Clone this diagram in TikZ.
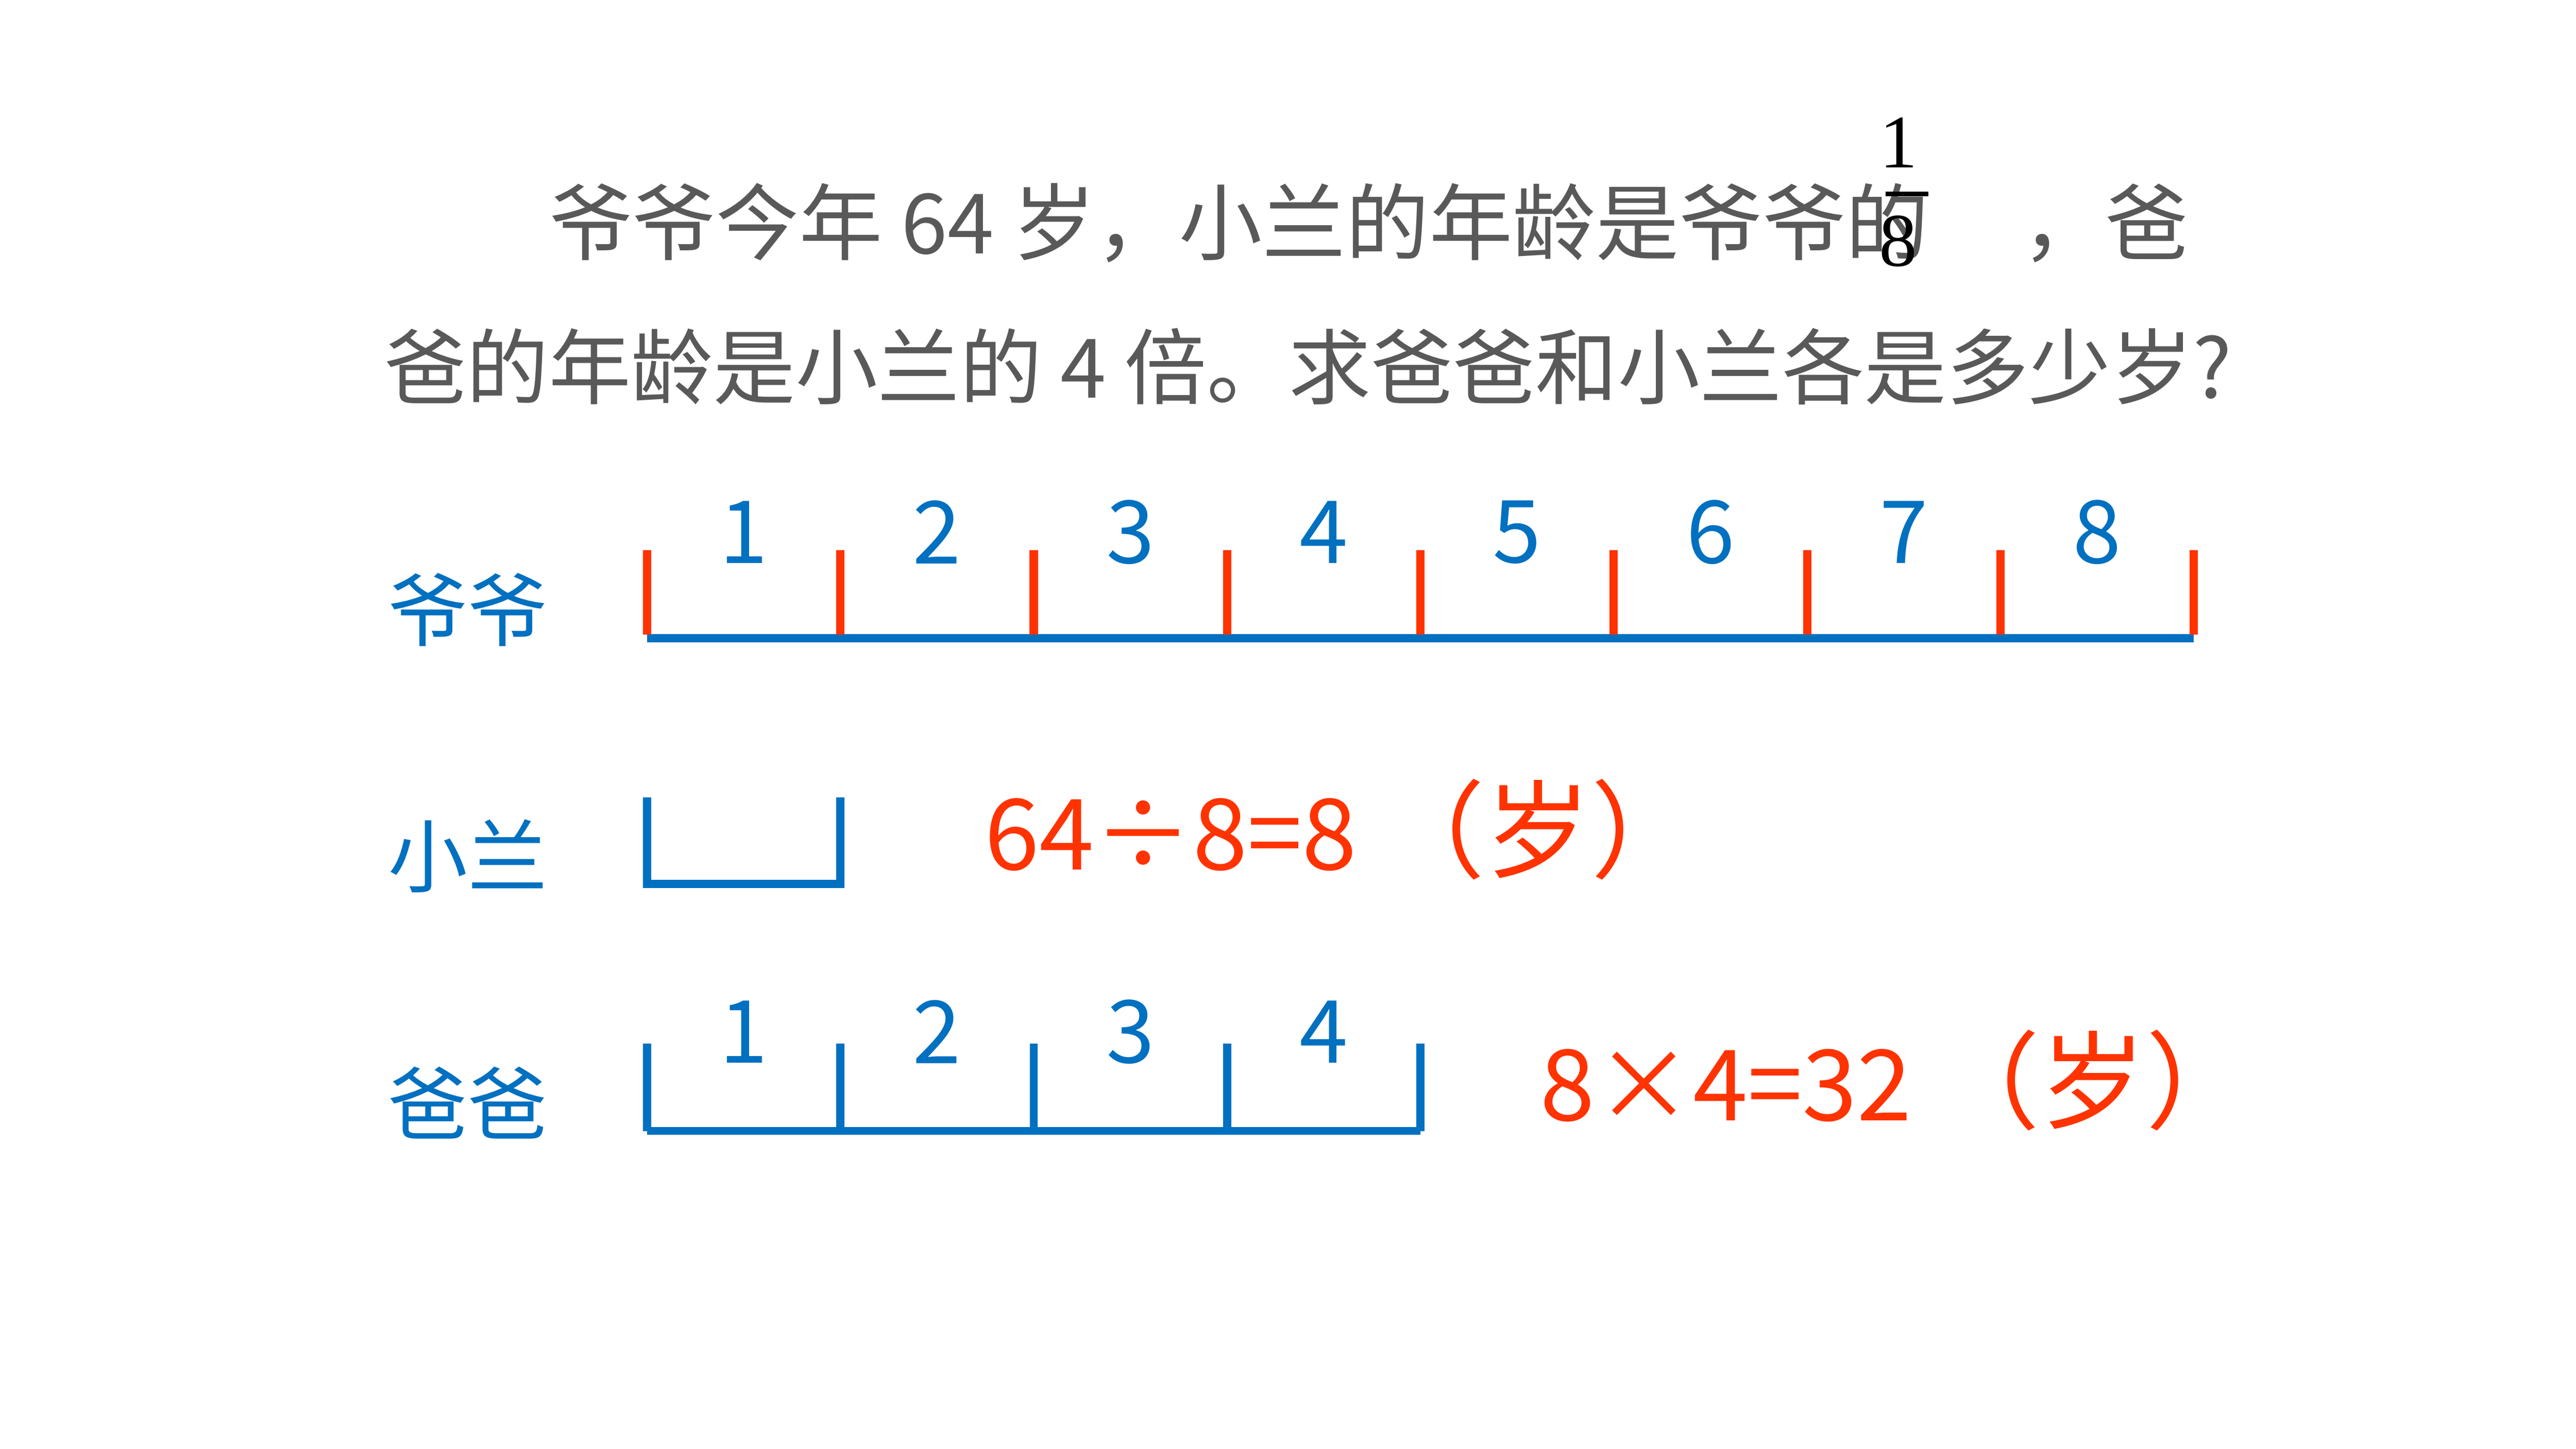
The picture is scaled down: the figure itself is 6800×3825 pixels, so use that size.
\documentclass[tikz,border=0pt]{standalone}
\usepackage{fontspec}
\newfontfamily\cjk{Noto Sans CJK SC}
\newfontfamily\serifnum{Liberation Serif}
\definecolor{txtgray}{HTML}{595959}
\definecolor{lblblue}{HTML}{0070C0}
\definecolor{ansred}{HTML}{FF3300}
\newcommand{\bigsui}[1]{{\fontsize{28pt}{30pt}\selectfont #1}}
\begin{document}
\begin{tikzpicture}[x=0.1pt,y=-0.1pt,
  every node/.style={inner sep=0pt,outer sep=0pt},
  hdr/.style={font=\cjk\fontsize{22pt}{26pt}\selectfont,text=txtgray,anchor=base west},
  lbl/.style={font=\cjk\fontsize{21pt}{25pt}\selectfont,text=lblblue,anchor=west},
  num/.style={font=\cjk\fontsize{23pt}{27pt}\selectfont,text=lblblue},
  fracnum/.style={font=\serifnum\fontsize{20pt}{24pt}\selectfont,text=black,anchor=base},
  ans/.style={font=\cjk\fontsize{26pt}{30pt}\selectfont,text=ansred,anchor=base west},
  tickred/.style={draw=ansred,line width=2.2pt},
  barblue/.style={draw=lblblue,line width=2.1pt},
]
\useasboundingbox (0,0) rectangle (6800,3825);
% problem text
\node[hdr] (line1) at (1450,670) {爷爷今年 64 岁，小兰的年龄是爷爷的\hspace{24.5pt}，爸};
\node[hdr,font=\cjk\fontsize{21.7pt}{26pt}\selectfont] (line2) at (1015,1050) {爸的年龄是小兰的 4 倍。求爸爸和小兰各是多少岁?};
% fraction 1/8
\node[fracnum] (fnum) at (5012,443) {1};
\node[fracnum] (fden) at (5010,702) {8};
\coordinate (fbarL) at (4977,512);
\coordinate (fbarR) at (5090,512);
\draw[line width=1.2pt] (fbarL) -- (fbarR);
% row labels
\node[lbl] (yeye) at (1025,1610) {爷爷};
\node[lbl] (xiaolan) at (1025,2260) {小兰};
\node[lbl] (baba) at (1025,2912) {爸爸};
% grandpa segment bar
\draw[barblue] (1708,1685) -- (5791.2,1685);
\foreach \i in {0,...,8}{
  \coordinate (gt\i) at ({1708+510.4*\i},1452);
  \coordinate (gb\i) at ({1708+510.4*\i},1675);
  \draw[tickred] (gt\i) -- (gb\i);
}
\foreach \i in {1,...,8}{
  \node[num] (g\i) at ({1708+510.4*(\i-0.5)},1405) {\i};
}
% xiaolan bracket
\coordinate (xa) at (1708,2105);
\coordinate (xb) at (1708,2334);
\coordinate (xc) at (2218.4,2334);
\coordinate (xd) at (2218.4,2105);
\draw[barblue] (xa) -- (xb) -- (xc) -- (xd);
% baba bar
\draw[barblue] (1708,2986) -- (3749.6,2986);
\foreach \i in {0,...,4}{
  \coordinate (bt\i) at ({1708+510.4*\i},2756);
  \coordinate (bb\i) at ({1708+510.4*\i},2986);
  \draw[barblue] (bt\i) -- (bb\i);
}
\foreach \i in {1,...,4}{
  \node[num] (b\i) at ({1708+510.4*(\i-0.5)},2724) {\i};
}
% answers
\node[ans] (calc1) at (2600,2296) {64÷8=8 \bigsui{（岁）}};
\node[ans] (calc2) at (4065,2958) {8×4=32 \bigsui{（岁）}};
\end{tikzpicture}
\end{document}
